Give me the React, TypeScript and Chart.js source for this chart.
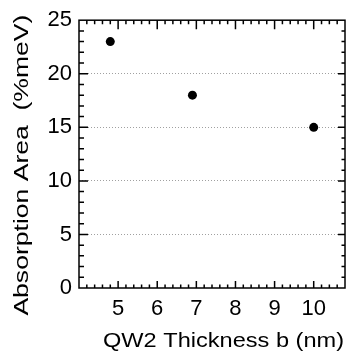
import React, { useEffect, useRef } from "react";
import { Chart, registerables } from "chart.js";

Chart.register(...registerables);

const thicknessNm = [4.8, 6.9, 10.0];
const absorptionArea = [23, 18, 15];
const xTickValues = [5, 6, 7, 8, 9, 10];
const yTickValues = [0, 5, 10, 15, 20, 25];
const xTitle = "QW2 Thickness b (nm)";
const yTitle = "Absorption Area  (%meV)";

const FONT = '"Liberation Sans", Arial, Helvetica, sans-serif';

export default function App() {
  const ref = useRef<HTMLCanvasElement>(null);

  useEffect(() => {
    document.body.style.margin = "0";
    const canvas = ref.current;
    if (!canvas) return;

    const framePlugin = {
      id: "frame",
      afterDraw(chart: any) {
        const { ctx, chartArea: a, scales } = chart;
        const xs = scales.x;
        const ys = scales.y;
        ctx.save();
        ctx.strokeStyle = "#000";
        ctx.lineWidth = 1.5;
        ctx.strokeRect(a.left, a.top, a.right - a.left, a.bottom - a.top);

        ctx.beginPath();
        // x ticks every 0.2, major each integer
        for (let k = 20; k <= 54; k++) {
          const v = k * 0.2;
          const px = xs.getPixelForValue(v);
          if (px <= a.left + 1 || px >= a.right - 1) continue;
          const major = k % 5 === 0;
          const lb = major ? 7 : 3.5;
          const lt = major ? 9 : 4;
          ctx.moveTo(px, a.bottom);
          ctx.lineTo(px, a.bottom - lb);
          ctx.moveTo(px, a.top);
          ctx.lineTo(px, a.top + lt);
        }
        // y ticks every 1, major every 5
        for (let v = 0; v <= 25; v++) {
          const py = ys.getPixelForValue(v);
          if (py <= a.top + 1 || py >= a.bottom - 1) continue;
          const major = v % 5 === 0;
          const ll = major ? 9 : 5;
          const lr = major ? 7 : 3.5;
          ctx.moveTo(a.left, py);
          ctx.lineTo(a.left + ll, py);
          ctx.moveTo(a.right, py);
          ctx.lineTo(a.right - lr, py);
        }
        ctx.stroke();

        // titles
        ctx.fillStyle = "#000";
        ctx.font = `21px ${FONT}`;
        ctx.textAlign = "center";
        ctx.textBaseline = "alphabetic";

        const wX = ctx.measureText(xTitle).width;
        ctx.save();
        ctx.translate((a.left + a.right) / 2 + 11.5, 347);
        ctx.scale(241 / wX, 1);
        ctx.fillText(xTitle, 0, 0);
        ctx.restore();

        const wY = ctx.measureText(yTitle).width;
        ctx.save();
        ctx.translate(28, (a.top + a.bottom) / 2 + 11);
        ctx.rotate(-Math.PI / 2);
        ctx.scale(301 / wY, 1);
        ctx.fillText(yTitle, 0, 0);
        ctx.restore();

        ctx.restore();
      },
    };

    const chart = new Chart(canvas, {
      type: "scatter",
      data: {
        datasets: [
          {
            data: thicknessNm.map((x, i) => ({ x, y: absorptionArea[i] })),
            backgroundColor: "#000",
            borderColor: "#000",
            borderWidth: 0,
            pointRadius: 4.5,
            pointHoverRadius: 4.5,
            showLine: false,
          },
        ],
      },
      options: {
        responsive: false,
        animation: false,
        events: [],
        layout: { padding: { top: 15, right: 6, left: 0, bottom: 0 } },
        plugins: {
          legend: { display: false },
          tooltip: { enabled: false },
        },
        scales: {
          x: {
            type: "linear",
            min: 4,
            max: 10.8,
            afterBuildTicks: (s: any) => {
              s.ticks = xTickValues.map((v) => ({ value: v }));
            },
            afterFit: (s: any) => {
              s.height = 64;
            },
            grid: { display: false, drawTicks: false },
            border: { display: false },
            ticks: {
              font: { family: FONT, size: 22 },
              color: "#000",
              padding: 8,
              autoSkip: false,
              maxRotation: 0,
            },
          },
          y: {
            type: "linear",
            min: 0,
            max: 25,
            afterBuildTicks: (s: any) => {
              s.ticks = yTickValues.map((v) => ({ value: v }));
            },
            afterFit: (s: any) => {
              s.width = 79;
            },
            grid: {
              drawTicks: false,
              lineWidth: 1,
              color: (c: any) =>
                c.tick && c.tick.value > 0 && c.tick.value < 25
                  ? "#a0a0a0"
                  : "rgba(0,0,0,0)",
            },
            border: { display: false, dash: [1, 2] },
            ticks: {
              font: { family: FONT, size: 22 },
              color: "#000",
              padding: 7,
            },
          },
        },
      },
      plugins: [framePlugin],
    });

    return () => chart.destroy();
  }, []);

  return (
    <div style={{ width: 351, height: 352 }}>
      <canvas ref={ref} width={351} height={352} style={{ display: "block" }} />
    </div>
  );
}
